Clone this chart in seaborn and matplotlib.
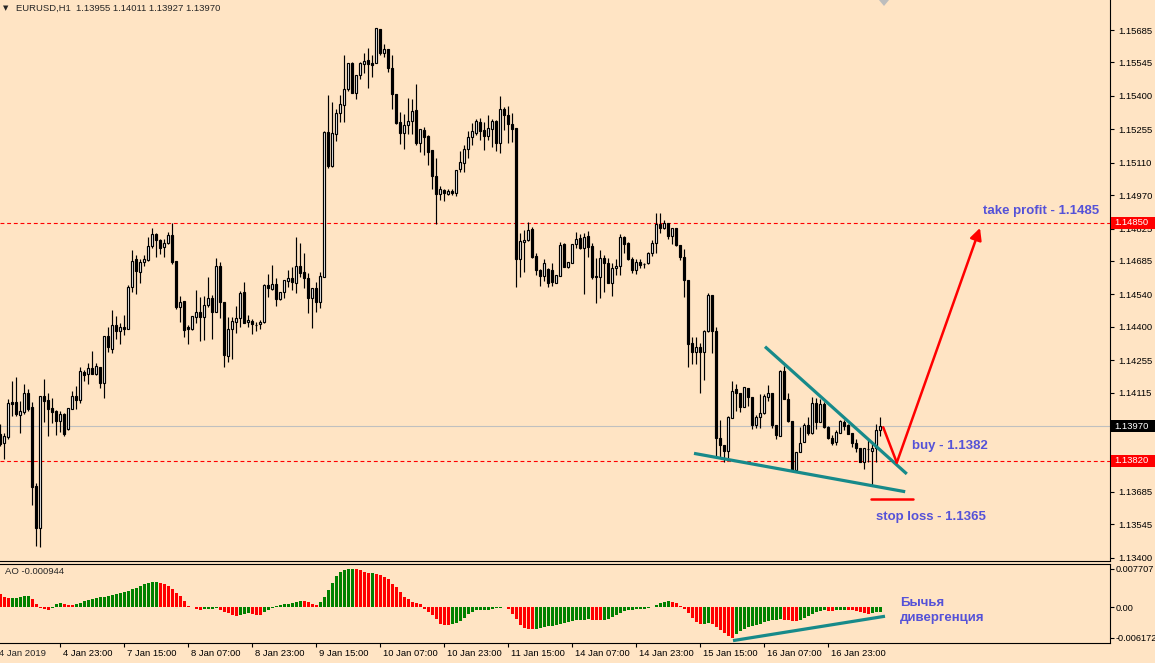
import numpy as np
import pandas as pd
import matplotlib
matplotlib.use("Agg")
import matplotlib.pyplot as plt
import matplotlib.transforms as mtransforms
from matplotlib.patches import Rectangle, Polygon
import seaborn as sns

# EURUSD H1, bar 0 = first (half cut) candle on the left
opens = [
    1.13936, 1.13897, 1.13923, 1.14074, 1.14074, 1.14018, 1.14031, 1.14113, 1.14053, 1.13711,
    1.13528, 1.14100, 1.14083, 1.14048, 1.14036, 1.13992, 1.14023, 1.13957, 1.14044, 1.14100,
    1.14083, 1.14204, 1.14196, 1.14222, 1.14196, 1.14226, 1.14157, 1.14360, 1.14304, 1.14407,
    1.14382, 1.14399, 1.14390, 1.14572, 1.14693, 1.14637, 1.14680, 1.14689, 1.14750, 1.14802,
    1.14776, 1.14746, 1.14763, 1.14797, 1.14685, 1.14486, 1.14512, 1.14399, 1.14390, 1.14443,
    1.14464, 1.14443, 1.14494, 1.14524, 1.14464, 1.14663, 1.14507, 1.14273, 1.14390, 1.14420,
    1.14438, 1.14550, 1.14420, 1.14425, 1.14407, 1.14412, 1.14420, 1.14581, 1.14563, 1.14585,
    1.14520, 1.14550, 1.14598, 1.14611, 1.14590, 1.14663, 1.14637, 1.14611, 1.14524, 1.14568,
    1.14507, 1.14616, 1.15243, 1.15096, 1.15235, 1.15326, 1.15360, 1.15430, 1.15542, 1.15412,
    1.15490, 1.15538, 1.15555, 1.15542, 1.15542, 1.15689, 1.15585, 1.15603, 1.15520, 1.15408,
    1.15286, 1.15239, 1.15273, 1.15291, 1.15339, 1.15196, 1.15252, 1.15226, 1.15165, 1.15053,
    1.14975, 1.14992, 1.14975, 1.14988, 1.14980, 1.15083, 1.15109, 1.15170, 1.15222, 1.15239,
    1.15286, 1.15252, 1.15226, 1.15256, 1.15291, 1.15196, 1.15343, 1.15317, 1.15278, 1.15260,
    1.14693, 1.14767, 1.14776, 1.14823, 1.14706, 1.14646, 1.14620, 1.14650, 1.14646, 1.14590,
    1.14620, 1.14759, 1.14659, 1.14676, 1.14759, 1.14784, 1.14741, 1.14793, 1.14750, 1.14620,
    1.14616, 1.14698, 1.14676, 1.14590, 1.14654, 1.14663, 1.14789, 1.14763, 1.14693, 1.14646,
    1.14680, 1.14672, 1.14676, 1.14719, 1.14763, 1.14845, 1.14827, 1.14849, 1.14793, 1.14827,
    1.14754, 1.14702, 1.14603, 1.14330, 1.14290, 1.14313, 1.14290, 1.14382, 1.14538, 1.14382,
    1.13919, 1.13888, 1.13862, 1.14005, 1.14131, 1.14113, 1.14053, 1.14135, 1.14096, 1.13975,
    1.14010, 1.14027, 1.14096, 1.14113, 1.13975, 1.13927, 1.14209, 1.14087, 1.13992, 1.13780,
    1.13858, 1.13901, 1.13975, 1.13940, 1.14070, 1.13987, 1.14066, 1.13966, 1.13919, 1.13901,
    1.13940, 1.13987, 1.13975, 1.13940, 1.13897, 1.13875, 1.13814, 1.13871, 1.13862, 1.13875,
    1.13955,
]
highs = [
    1.13979, 1.13940, 1.14087, 1.14166, 1.14183, 1.14079, 1.14153, 1.14131, 1.14074, 1.13724,
    1.14100, 1.14174, 1.14113, 1.14091, 1.14040, 1.14036, 1.14027, 1.14048, 1.14122, 1.14144,
    1.14226, 1.14213, 1.14243, 1.14295, 1.14243, 1.14226, 1.14360, 1.14399, 1.14473, 1.14447,
    1.14416, 1.14451, 1.14581, 1.14732, 1.14710, 1.14693, 1.14710, 1.14789, 1.14827, 1.14806,
    1.14780, 1.14780, 1.14810, 1.14849, 1.14685, 1.14533, 1.14512, 1.14407, 1.14447, 1.14559,
    1.14529, 1.14533, 1.14616, 1.14538, 1.14698, 1.14680, 1.14507, 1.14443, 1.14443, 1.14490,
    1.14555, 1.14594, 1.14451, 1.14434, 1.14420, 1.14429, 1.14585, 1.14629, 1.14667, 1.14611,
    1.14550, 1.14603, 1.14646, 1.14659, 1.14789, 1.14763, 1.14719, 1.14633, 1.14568, 1.14594,
    1.14637, 1.15248, 1.15403, 1.15373, 1.15343, 1.15403, 1.15576, 1.15542, 1.15546, 1.15490,
    1.15546, 1.15585, 1.15607, 1.15576, 1.15693, 1.15689, 1.15625, 1.15603, 1.15576, 1.15408,
    1.15330, 1.15322, 1.15391, 1.15386, 1.15452, 1.15256, 1.15265, 1.15230, 1.15165, 1.15130,
    1.15010, 1.14997, 1.14997, 1.14997, 1.15079, 1.15161, 1.15187, 1.15248, 1.15282, 1.15300,
    1.15304, 1.15286, 1.15317, 1.15300, 1.15295, 1.15399, 1.15352, 1.15356, 1.15326, 1.15260,
    1.14806, 1.14819, 1.14854, 1.14832, 1.14719, 1.14650, 1.14693, 1.14654, 1.14676, 1.14624,
    1.14767, 1.14763, 1.14680, 1.14759, 1.14810, 1.14802, 1.14806, 1.14815, 1.14763, 1.14698,
    1.14732, 1.14710, 1.14698, 1.14676, 1.14693, 1.14802, 1.14793, 1.14767, 1.14702, 1.14693,
    1.14693, 1.14676, 1.14723, 1.14776, 1.14893, 1.14893, 1.14862, 1.14849, 1.14827, 1.14827,
    1.14754, 1.14737, 1.14603, 1.14356, 1.14356, 1.14330, 1.14386, 1.14546, 1.14538, 1.14399,
    1.13996, 1.13888, 1.14014, 1.14166, 1.14153, 1.14113, 1.14140, 1.14135, 1.14096, 1.14018,
    1.14109, 1.14109, 1.14148, 1.14113, 1.13975, 1.14213, 1.14230, 1.14113, 1.13992, 1.13858,
    1.13966, 1.13983, 1.14010, 1.14096, 1.14091, 1.14087, 1.14074, 1.13970, 1.13931, 1.13953,
    1.13996, 1.13996, 1.13979, 1.13940, 1.13914, 1.13875, 1.13875, 1.13910, 1.13901, 1.13979,
    1.14011,
]
lows = [
    1.13884, 1.13827, 1.13914, 1.14014, 1.14014, 1.13940, 1.14023, 1.14036, 1.13628, 1.13451,
    1.13447, 1.13987, 1.13927, 1.13983, 1.13931, 1.13944, 1.13927, 1.13953, 1.14044, 1.14044,
    1.14070, 1.14166, 1.14153, 1.14196, 1.14191, 1.14135, 1.14091, 1.14290, 1.14286, 1.14347,
    1.14326, 1.14364, 1.14390, 1.14550, 1.14542, 1.14590, 1.14663, 1.14685, 1.14741, 1.14702,
    1.14715, 1.14702, 1.14759, 1.14672, 1.14477, 1.14420, 1.14356, 1.14326, 1.14386, 1.14416,
    1.14339, 1.14343, 1.14486, 1.14347, 1.14464, 1.14438, 1.14226, 1.14247, 1.14260, 1.14373,
    1.14399, 1.14416, 1.14399, 1.14369, 1.14382, 1.14390, 1.14416, 1.14529, 1.14559, 1.14490,
    1.14516, 1.14524, 1.14572, 1.14559, 1.14546, 1.14616, 1.14568, 1.14460, 1.14395, 1.14464,
    1.14481, 1.14616, 1.15087, 1.15092, 1.15205, 1.15286, 1.15286, 1.15421, 1.15412, 1.15386,
    1.15473, 1.15499, 1.15434, 1.15481, 1.15542, 1.15576, 1.15568, 1.15503, 1.15343, 1.15278,
    1.15192, 1.15170, 1.15235, 1.15235, 1.15187, 1.15156, 1.15143, 1.15100, 1.14997, 1.14845,
    1.14949, 1.14945, 1.14971, 1.14971, 1.14967, 1.15070, 1.15070, 1.15130, 1.15187, 1.15230,
    1.15209, 1.15165, 1.15209, 1.15178, 1.15161, 1.15152, 1.15252, 1.15196, 1.15200, 1.14572,
    1.14616, 1.14637, 1.14772, 1.14698, 1.14624, 1.14577, 1.14598, 1.14572, 1.14577, 1.14590,
    1.14620, 1.14659, 1.14654, 1.14676, 1.14741, 1.14737, 1.14542, 1.14702, 1.14607, 1.14503,
    1.14524, 1.14550, 1.14590, 1.14533, 1.14624, 1.14624, 1.14719, 1.14689, 1.14633, 1.14629,
    1.14654, 1.14654, 1.14672, 1.14706, 1.14719, 1.14806, 1.14823, 1.14780, 1.14759, 1.14750,
    1.14689, 1.14529, 1.14226, 1.14239, 1.14239, 1.14113, 1.14170, 1.14377, 1.14286, 1.13836,
    1.13836, 1.13814, 1.13831, 1.14005, 1.14036, 1.14031, 1.14053, 1.14057, 1.13957, 1.13962,
    1.13962, 1.14023, 1.14079, 1.13962, 1.13914, 1.13927, 1.14087, 1.13987, 1.13775, 1.13775,
    1.13858, 1.13901, 1.13931, 1.13936, 1.13957, 1.13987, 1.13962, 1.13914, 1.13888, 1.13888,
    1.13940, 1.13953, 1.13936, 1.13879, 1.13858, 1.13814, 1.13784, 1.13814, 1.13715, 1.13814,
    1.13927,
]
closes = [
    1.13893, 1.13927, 1.14070, 1.14066, 1.14023, 1.14036, 1.14113, 1.14044, 1.13707, 1.13528,
    1.14100, 1.14079, 1.14044, 1.14031, 1.13992, 1.14023, 1.13936, 1.14048, 1.14100, 1.14083,
    1.14209, 1.14191, 1.14222, 1.14196, 1.14230, 1.14157, 1.14360, 1.14313, 1.14407, 1.14382,
    1.14399, 1.14390, 1.14572, 1.14685, 1.14642, 1.14680, 1.14693, 1.14750, 1.14802, 1.14776,
    1.14741, 1.14763, 1.14797, 1.14680, 1.14486, 1.14507, 1.14386, 1.14390, 1.14447, 1.14464,
    1.14443, 1.14494, 1.14524, 1.14464, 1.14663, 1.14507, 1.14277, 1.14390, 1.14425, 1.14438,
    1.14546, 1.14416, 1.14429, 1.14412, 1.14407, 1.14420, 1.14581, 1.14568, 1.14585, 1.14520,
    1.14550, 1.14603, 1.14611, 1.14594, 1.14663, 1.14633, 1.14611, 1.14524, 1.14568, 1.14507,
    1.14620, 1.15243, 1.15096, 1.15239, 1.15326, 1.15365, 1.15430, 1.15542, 1.15412, 1.15490,
    1.15542, 1.15551, 1.15538, 1.15533, 1.15693, 1.15585, 1.15603, 1.15520, 1.15408, 1.15282,
    1.15239, 1.15273, 1.15291, 1.15335, 1.15196, 1.15256, 1.15222, 1.15156, 1.15053, 1.14975,
    1.14997, 1.14980, 1.14988, 1.14980, 1.15079, 1.15113, 1.15170, 1.15222, 1.15248, 1.15291,
    1.15248, 1.15226, 1.15260, 1.15291, 1.15196, 1.15343, 1.15317, 1.15278, 1.15256, 1.14693,
    1.14772, 1.14776, 1.14819, 1.14702, 1.14646, 1.14620, 1.14676, 1.14590, 1.14594, 1.14624,
    1.14754, 1.14659, 1.14680, 1.14759, 1.14780, 1.14741, 1.14789, 1.14746, 1.14616, 1.14616,
    1.14698, 1.14676, 1.14590, 1.14654, 1.14663, 1.14789, 1.14759, 1.14693, 1.14646, 1.14680,
    1.14667, 1.14672, 1.14719, 1.14763, 1.14845, 1.14827, 1.14849, 1.14793, 1.14827, 1.14754,
    1.14702, 1.14603, 1.14326, 1.14290, 1.14313, 1.14290, 1.14382, 1.14538, 1.14382, 1.13919,
    1.13888, 1.13862, 1.14010, 1.14122, 1.14113, 1.14053, 1.14140, 1.14096, 1.13975, 1.14010,
    1.14027, 1.14100, 1.14113, 1.13975, 1.13931, 1.14209, 1.14087, 1.13992, 1.13780, 1.13858,
    1.13897, 1.13975, 1.13940, 1.14070, 1.13987, 1.14066, 1.13966, 1.13919, 1.13897, 1.13944,
    1.13992, 1.13970, 1.13936, 1.13897, 1.13875, 1.13814, 1.13875, 1.13871, 1.13875, 1.13953,
    1.13970,
]

# Awesome Oscillator, one value per bar
ao_values = [
    0.00261, 0.00210, 0.00185, 0.00188, 0.00195, 0.00210, 0.00220, 0.00225, 0.00165, 0.00057,
    -0.00013, -0.00032, -0.00057, -0.00020, 0.00076, 0.00096, 0.00070, 0.00051, 0.00045, 0.00064,
    0.00096, 0.00121, 0.00153, 0.00172, 0.00191, 0.00204, 0.00217, 0.00229, 0.00248, 0.00274,
    0.00293, 0.00312, 0.00337, 0.00369, 0.00395, 0.00427, 0.00465, 0.00490, 0.00510, 0.00512,
    0.00497, 0.00478, 0.00427, 0.00376, 0.00287, 0.00223, 0.00127, 0.00032, 0.00002, -0.00032,
    -0.00051, -0.00038, -0.00032, -0.00025, -0.00019, -0.00045, -0.00089, -0.00121, -0.00153, -0.00172,
    -0.00153, -0.00127, -0.00115, -0.00140, -0.00150, -0.00155, -0.00096, -0.00045, -0.00006, 0.00019,
    0.00051, 0.00057, 0.00064, 0.00083, 0.00115, 0.00134, 0.00121, 0.00102, 0.00064, 0.00038,
    0.00102, 0.00204, 0.00357, 0.00490, 0.00631, 0.00707, 0.00752, 0.00765, 0.007707, 0.00768,
    0.00752, 0.00720, 0.00682, 0.00690, 0.00675, 0.00643, 0.00618, 0.00561, 0.00478, 0.00401,
    0.00306, 0.00210, 0.00166, 0.00115, 0.00089, 0.00057, -0.00025, -0.00096, -0.00159, -0.00236,
    -0.00331, -0.00350, -0.00363, -0.00338, -0.00312, -0.00268, -0.00223, -0.00140, -0.00096, -0.00064,
    -0.00051, -0.00048, -0.00045, -0.00038, -0.00019, -0.00006, 0.00013, -0.00032, -0.00127, -0.00236,
    -0.00363, -0.00414, -0.00427, -0.00440, -0.00427, -0.00420, -0.00400, -0.00382, -0.00369, -0.00350,
    -0.00331, -0.00312, -0.00302, -0.00271, -0.00258, -0.00252, -0.00246, -0.00242, -0.00252, -0.00258,
    -0.00265, -0.00252, -0.00227, -0.00195, -0.00151, -0.00113, -0.00082, -0.00063, -0.00050, -0.00038,
    -0.00032, -0.00025, -0.00013, 0.00006, 0.00038, 0.00082, 0.00113, 0.00126, 0.00113, 0.00082,
    0.00025, -0.00044, -0.00107, -0.00208, -0.00290, -0.00340, -0.00330, -0.00320, -0.00345, -0.00400,
    -0.00460, -0.00520, -0.00580, -0.006172, -0.00540, -0.00470, -0.00430, -0.00400, -0.00375, -0.00355,
    -0.00330, -0.00305, -0.00285, -0.00265, -0.00250, -0.00240, -0.00248, -0.00258, -0.00268, -0.00275,
    -0.00260, -0.00215, -0.00170, -0.00130, -0.00100, -0.00080, -0.00060, -0.00065, -0.00070, -0.00062,
    -0.00050, -0.00045, -0.00050, -0.00060, -0.00070, -0.00085, -0.00105, -0.00125, -0.00110, -0.00100,
    -0.000944,
]

price_ticks = [1.15685, 1.15545, 1.15400, 1.15255, 1.15110, 1.14970, 1.14825, 1.14685, 1.14540,
               1.14400, 1.14255, 1.14115, 1.13970, 1.13830, 1.13685, 1.13545, 1.13400]
ao_ticks = [0.007707, 0.0, -0.006172]
ao_tick_labels = ["0.007707", "0.00", "-0.006172"]

time_bars = [-1, 15, 31, 47, 63, 79, 95, 111, 127, 143, 159, 175, 191, 207]
time_labels = ["4 Jan 2019", "4 Jan 23:00", "7 Jan 15:00", "8 Jan 07:00", "8 Jan 23:00",
               "9 Jan 15:00", "10 Jan 07:00", "10 Jan 23:00", "11 Jan 15:00", "14 Jan 07:00",
               "14 Jan 23:00", "15 Jan 15:00", "16 Jan 07:00", "16 Jan 23:00"]

take_profit = 1.14850
buy_level = 1.13820
stop_loss = 1.13655

# hand drawn objects (bar, price)
wedge_upper = ([191.25, 226.7], [1.14314, 1.13763])
wedge_lower = ([173.5, 226.3], [1.13852, 1.13686])
trade_v = ([220.8, 224.2], [1.13965, 1.13812])
trade_up = ([224.2, 245.0], [1.13812, 1.14828])
stop_mark = ([217.7, 228.3], [stop_loss, stop_loss])
ao_divergence = ([183.25, 221.25], [-0.0067, -0.0018])

W, H = 1155, 663
BG = "#FFE4C4"
BLUE = "#5552D8"
TEAL = "#178A8A"
FS = 6.8

sns.set_theme(style="white", rc={"axes.facecolor": BG, "figure.facecolor": BG,
                                 "savefig.facecolor": BG})
plt.rcParams["font.family"] = ["Liberation Sans", "DejaVu Sans"]
plt.rcParams["axes.unicode_minus"] = False

fig = plt.figure(figsize=(W / 100, H / 100), dpi=100)
ax = fig.add_axes([0, 102 / H, 1110 / W, 561 / H])
ax_ao = fig.add_axes([0, 20 / H, 1110 / W, 79 / H])


def px(x, y):
    return x / W, 1 - y / H


# candles
candles = pd.DataFrame({"open": opens, "high": highs, "low": lows, "close": closes})
candles["bar"] = np.arange(len(candles))
bull = candles["close"] >= candles["open"]
body_low = candles[["open", "close"]].min(axis=1)
body_h = (candles["close"] - candles["open"]).abs().clip(lower=0.000015)

ax.vlines(candles["bar"], candles["low"], candles["high"], color="black", lw=0.85, zorder=2)
ax.bar(candles["bar"][bull], body_h[bull], bottom=body_low[bull], width=0.7,
       facecolor="white", edgecolor="black", lw=0.85, zorder=3)
ax.bar(candles["bar"][~bull], body_h[~bull], bottom=body_low[~bull], width=0.7,
       facecolor="black", edgecolor="black", lw=0.85, zorder=3)

ax.axhline(take_profit, color="red", lw=0.8, ls=(0, (3.5, 2.5)), zorder=1)
ax.axhline(buy_level, color="red", lw=0.8, ls=(0, (3.5, 2.5)), zorder=1)
ax.axhline(closes[-1], color="#C0C0C0", lw=0.8, zorder=1)

ax.plot(*wedge_upper, color=TEAL, lw=2.3, solid_capstyle="butt", zorder=4)
ax.plot(*wedge_lower, color=TEAL, lw=2.3, solid_capstyle="butt", zorder=4)
ax.plot(*trade_v, color="red", lw=1.8, zorder=4)
ax.annotate("", xy=(trade_up[0][1], trade_up[1][1]), xytext=(trade_up[0][0], trade_up[1][0]),
            arrowprops=dict(arrowstyle="-|>,head_length=0.7,head_width=0.35", color="red",
                            lw=1.8, shrinkA=0, shrinkB=0, mutation_scale=10), zorder=4)
ax.plot(*stop_mark, color="red", lw=1.8, zorder=4)

ax.set_xlim(0, 277.5)
ax.set_ylim(1.13386, 1.15815)
ax.set_xticks([])
ax.yaxis.tick_right()
ax.set_yticks(price_ticks)
# the two levels under the black and red price boxes stay unlabelled
covered = {1.13970, 1.13830}
ax.set_yticklabels(["" if t in covered else f"{t:.5f}" for t in price_ticks])
ax.tick_params(axis="y", right=True, left=False, labelright=True, labelleft=False,
               direction="out", length=3, width=0.8, pad=3, labelsize=FS, colors="black")

# Awesome Oscillator
ao_df = pd.DataFrame({"bar": np.arange(len(ao_values)), "ao": ao_values})
ao_df["trend"] = np.where(ao_df["ao"].diff() > 0, "up", "down")
sns.barplot(data=ao_df, x="bar", y="ao", hue="trend",
            palette={"up": "#008000", "down": "#FF0000"}, native_scale=True,
            width=0.75, errorbar=None, legend=False, saturation=1,
            edgecolor="none", linewidth=0, ax=ax_ao)
ax_ao.plot(*ao_divergence, color=TEAL, lw=2.3, solid_capstyle="butt", zorder=4)
ax_ao.set_xlabel("")
ax_ao.set_ylabel("")
ax_ao.set_xlim(0, 277.5)
ax_ao.set_ylim(-0.00718, 0.00871)
ax_ao.yaxis.tick_right()
ax_ao.set_yticks(ao_ticks)
ax_ao.set_yticklabels(ao_tick_labels)
ax_ao.tick_params(axis="y", right=True, left=False, labelright=True, labelleft=False,
                  direction="out", length=3, width=0.8, pad=0.8, labelsize=6.6, colors="black")
ax_ao.set_xticks(time_bars[1:])
ax_ao.set_xticklabels(time_labels[1:])
ax_ao.tick_params(axis="x", bottom=True, direction="out", length=3, width=0.8, pad=1.5,
                  labelsize=FS, colors="black")
shift = mtransforms.ScaledTranslation(3 / 100, 0, fig.dpi_scale_trans)
for lbl in ax_ao.get_xticklabels():
    lbl.set_horizontalalignment("left")
    lbl.set_transform(lbl.get_transform() + shift)
first_lbl = mtransforms.blended_transform_factory(ax_ao.transData, ax_ao.transAxes)
ax_ao.text(time_bars[0], 0, time_labels[0], fontsize=FS, ha="left", va="top", clip_on=False,
           transform=first_lbl + mtransforms.ScaledTranslation(3 / 100, -6.2 / 100,
                                                               fig.dpi_scale_trans))

for a, top in ((ax, False), (ax_ao, True)):
    a.spines["left"].set_visible(False)
    a.spines["top"].set_visible(top)
    for s in ("right", "bottom", "top"):
        a.spines[s].set_color("black")
        a.spines[s].set_linewidth(0.8)


# price labels on the right scale
def price_box(price, face):
    y = fig.transFigure.inverted().transform(ax.transData.transform((0, price)))[1]
    fig.patches.append(Rectangle((1111 / W, y - 6 / H), 44 / W, 12 / H, transform=fig.transFigure,
                                 facecolor=face, edgecolor="none", zorder=5))
    fig.text(1114 / W, y, f"{price:.5f}", color="white", fontsize=FS, va="center", ha="left",
             zorder=6)


price_box(take_profit, "#FF0000")
price_box(closes[-1], "black")
price_box(buy_level, "#FF0000")

# chart shift marker
fig.patches.append(Polygon([px(879, 0), px(889, 0), px(884, 6)], closed=True,
                           transform=fig.transFigure, facecolor="#BDBDBD", edgecolor="none"))

fig.text(*px(3, 8), "\u25bc", fontsize=5, va="center", ha="left", family="DejaVu Sans")
fig.text(*px(16, 8), f"EURUSD,H1  {opens[-1]:.5f} {highs[-1]:.5f} {lows[-1]:.5f} {closes[-1]:.5f}",
         fontsize=FS, va="center", ha="left")
fig.text(*px(5, 572), f"AO {ao_values[-1]:.6f}", fontsize=FS, va="center", ha="left")

note = dict(color=BLUE, fontsize=9.5, fontweight="bold", va="center", ha="left")
fig.text(*px(983, 211), "take profit - 1.1485", **note)
fig.text(*px(912, 446), "buy - 1.1382", **note)
fig.text(*px(876, 517), "stop loss - 1.1365", **note)
fig.text(*px(900, 603), "Бычья", **note)
fig.text(*px(900, 618), "дивергенция", **note)

fig.savefig("out.png", dpi=100, facecolor=BG)
